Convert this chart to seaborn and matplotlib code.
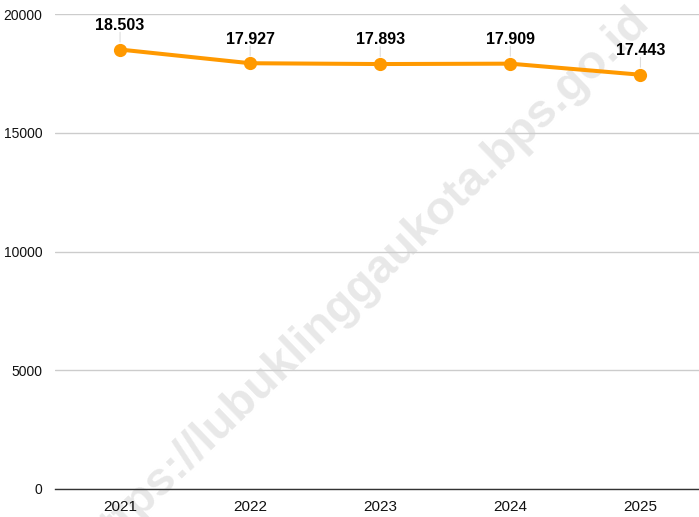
import matplotlib
matplotlib.use('Agg')
import matplotlib.pyplot as plt
import seaborn as sns
import pandas as pd

# data
years = ['2021', '2022', '2023', '2024', '2025']
values = [18503, 17927, 17893, 17909, 17443]
labels = ['18.503', '17.927', '17.893', '17.909', '17.443']

df = pd.DataFrame({'year': years, 'value': values})

sns.set_theme(style='white')
plt.rcParams['font.family'] = ['Liberation Sans', 'DejaVu Sans']

fig = plt.figure(figsize=(6.99, 5.17), dpi=100)
ax = fig.add_axes([55/699, 28/517, 1 - 55/699, (489-14)/517])
ax.set_zorder(2)
ax.patch.set_alpha(0)

# watermark (behind the axes)
fig.text(0.522, 0.455, 'https://lubuklinggaukota.bps.go.id', fontsize=34, fontweight='bold',
         color='#e8e8e8', rotation=44, ha='center', va='center', zorder=0)

sns.lineplot(data=df, x='year', y='value', ax=ax, color='#ff9900', linewidth=2.9,
             marker='o', markersize=9.5, markeredgewidth=0, sort=False)

for i, (v, t) in enumerate(zip(values, labels)):
    ax.annotate(t, (i, v), xytext=(0, 12), textcoords='offset points', ha='center', va='bottom',
                fontsize=11.5, fontweight='bold', color='#000000')
    ax.annotate('', (i, v + 200), xytext=(0, 11), textcoords='offset points',
                arrowprops=dict(arrowstyle='-', color='#dddddd', lw=0.8))

ax.set_ylim(0, 20000)
ax.set_xlim(-0.5, 4.45)
ax.set_yticks([0, 5000, 10000, 15000, 20000])
ax.yaxis.grid(True, color='#cccccc', linewidth=1)
ax.set_axisbelow(True)
for s in ['top', 'right', 'left']:
    ax.spines[s].set_visible(False)
ax.spines['bottom'].set_color('#333333')
ax.spines['bottom'].set_linewidth(1)
ax.tick_params(axis='both', length=0, colors='#111111')
ax.tick_params(axis='y', pad=9, labelsize=10)
ax.tick_params(axis='x', pad=8, labelsize=11)
ax.set_xlabel('')
ax.set_ylabel('')

fig.savefig('out.png', dpi=100)
